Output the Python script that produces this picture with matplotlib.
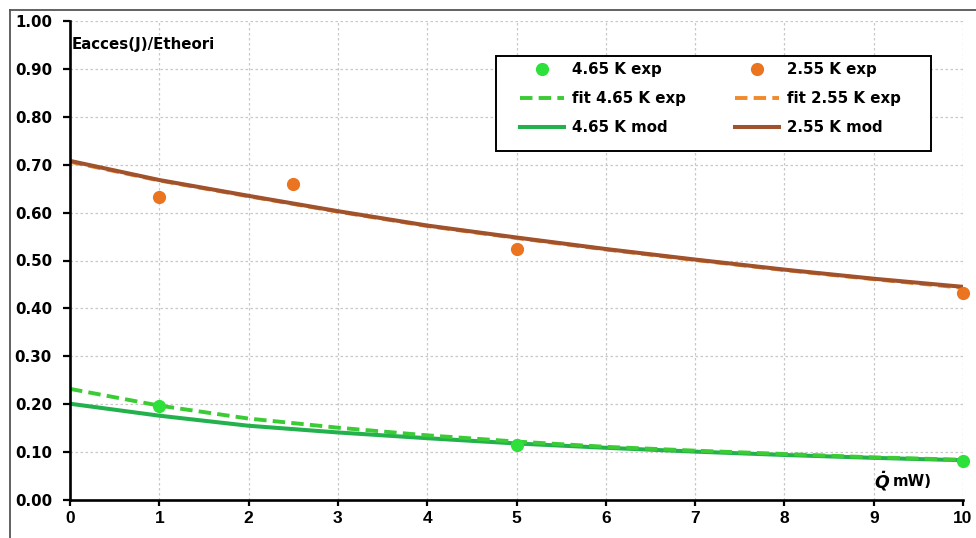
import matplotlib
matplotlib.use("Agg")
import matplotlib.pyplot as plt
from matplotlib.lines import Line2D
from matplotlib.patches import Rectangle

# ---- data ----
x_curve = [0, 1, 2, 3, 4, 5, 6, 7, 8, 9, 10]
mod_255 = [0.708, 0.668, 0.635, 0.603, 0.573, 0.548, 0.524, 0.502, 0.481, 0.462, 0.445]
fit_255 = [0.706, 0.667, 0.634, 0.602, 0.572, 0.547, 0.523, 0.501, 0.480, 0.461, 0.443]
mod_465 = [0.201, 0.176, 0.155, 0.141, 0.129, 0.118, 0.109, 0.101, 0.094, 0.088, 0.083]
fit_465 = [0.232, 0.197, 0.170, 0.151, 0.135, 0.122, 0.111, 0.103, 0.096, 0.089, 0.084]

x_exp_255 = [1, 2.5, 5, 10]
y_exp_255 = [0.632, 0.659, 0.524, 0.432]
x_exp_465 = [1, 5, 10]
y_exp_465 = [0.196, 0.115, 0.082]

x_ticks = list(range(0, 11))
y_ticks = [0.0, 0.1, 0.2, 0.3, 0.4, 0.5, 0.6, 0.7, 0.8, 0.9, 1.0]
y_ticklabels = [f"{v:.2f}" for v in y_ticks]

labels = ["4.65 K exp", "fit 4.65 K exp", "4.65 K mod",
          "2.55 K exp", "fit 2.55 K exp", "2.55 K mod"]

# ---- colours ----
c_g_exp = "#2EE03A"
c_g_fit = "#3BCB34"
c_g_mod = "#22B14C"
c_o_exp = "#EA7420"
c_o_fit = "#F08A2C"
c_o_mod = "#A0522D"

W, H = 976, 538
fig = plt.figure(figsize=(W / 100, H / 100), dpi=100)
fig.patch.set_facecolor("white")

L, R, T, B = 70, 963, 21, 500
ax = fig.add_axes([L / W, (H - B) / H, (R - L) / W, (B - T) / H])

FS = 10.8
bold = dict(fontweight="bold", family="DejaVu Sans")

ax.plot(x_curve, fit_255, color=c_o_fit, lw=2.8, ls=(0, (3.2, 1.6)), zorder=3)
ax.plot(x_curve, mod_255, color=c_o_mod, lw=2.9, zorder=4)
ax.plot(x_curve, mod_465, color=c_g_mod, lw=2.9, zorder=3)
ax.plot(x_curve, fit_465, color=c_g_fit, lw=2.8, ls=(0, (3.2, 1.6)), zorder=4)
ax.plot(x_exp_255, y_exp_255, "o", color=c_o_exp, ms=9.5, mec="none", zorder=6, clip_on=False)
ax.plot(x_exp_465, y_exp_465, "o", color=c_g_exp, ms=9.5, mec="none", zorder=6, clip_on=False)

ax.set_xlim(0, 10)
ax.set_ylim(0, 1)
ax.set_xticks(x_ticks)
ax.set_yticks(y_ticks)
ax.set_yticklabels(y_ticklabels)

for s in ["top", "right"]:
    ax.spines[s].set_visible(False)
for s in ["left", "bottom"]:
    ax.spines[s].set_linewidth(1.9)
    ax.spines[s].set_color("black")
    ax.spines[s].set_zorder(7)

ax.tick_params(axis="y", direction="out", length=5, width=1.6, pad=8)
ax.tick_params(axis="x", direction="out", length=4, width=1.6, pad=4)
for lab in ax.get_yticklabels():
    lab.set_fontweight("bold")
    lab.set_fontsize(FS)
    lab.set_family("DejaVu Sans")
for lab in ax.get_xticklabels():
    lab.set_fontweight("bold")
    lab.set_fontsize(12.5)
    lab.set_family(["Liberation Sans Narrow", "Liberation Sans"])

ax.grid(True, color="#C8C8C8", ls=(0, (2, 2)), lw=0.9)
ax.set_axisbelow(True)

# axis captions
ax.text((72 - L) / (R - L), (B - 45) / (B - T), "Eacces(J)/Etheori", transform=ax.transAxes,
        fontsize=FS, va="center", ha="left", zorder=8, **bold)
ax.text((874 - L) / (R - L), (B - 481) / (B - T), r"$\mathbfit{\dot{Q}}$", transform=ax.transAxes,
        fontsize=12.5, va="center", ha="left", zorder=8, **bold)
ax.text((893 - L) / (R - L), (B - 481) / (B - T), "mW)", transform=ax.transAxes,
        fontsize=FS, va="center", ha="left", zorder=8, **bold)

# legend
handles = [
    Line2D([], [], ls="none", marker="o", color=c_g_exp, ms=9.5, mec="none"),
    Line2D([], [], color=c_g_fit, lw=2.8, ls=(0, (3.2, 1.6))),
    Line2D([], [], color=c_g_mod, lw=2.9),
    Line2D([], [], ls="none", marker="o", color=c_o_exp, ms=9.5, mec="none"),
    Line2D([], [], color=c_o_fit, lw=2.8, ls=(0, (3.2, 1.6))),
    Line2D([], [], color=c_o_mod, lw=2.9),
]
box_l, box_r, box_t, box_b = 496, 931, 56, 151
rect = Rectangle(((box_l - L) / (R - L), (B - box_b) / (B - T)),
                 (box_r - box_l) / (R - L), (box_b - box_t) / (B - T),
                 transform=ax.transAxes, facecolor="white", edgecolor="black",
                 lw=1.4, zorder=9)
ax.add_patch(rect)
leg = ax.legend(handles, labels, ncol=2, loc="upper left",
                bbox_to_anchor=((520 - L) / (R - L), (B - 62) / (B - T)),
                frameon=False, borderpad=0, borderaxespad=0,
                handlelength=2.9, handletextpad=0.55, columnspacing=3.3,
                labelspacing=0.95, prop=dict(weight="bold", size=FS, family="DejaVu Sans"))
leg.set_zorder(10)

# outer frame
fig.add_artist(Line2D([10 / W, 10 / W], [0, 1 - 10 / H], transform=fig.transFigure,
                      color="#555555", lw=1.3))
fig.add_artist(Line2D([10 / W, 1], [1 - 10 / H, 1 - 10 / H], transform=fig.transFigure,
                      color="#555555", lw=1.3))

fig.savefig("out.png", dpi=100, facecolor="white")
